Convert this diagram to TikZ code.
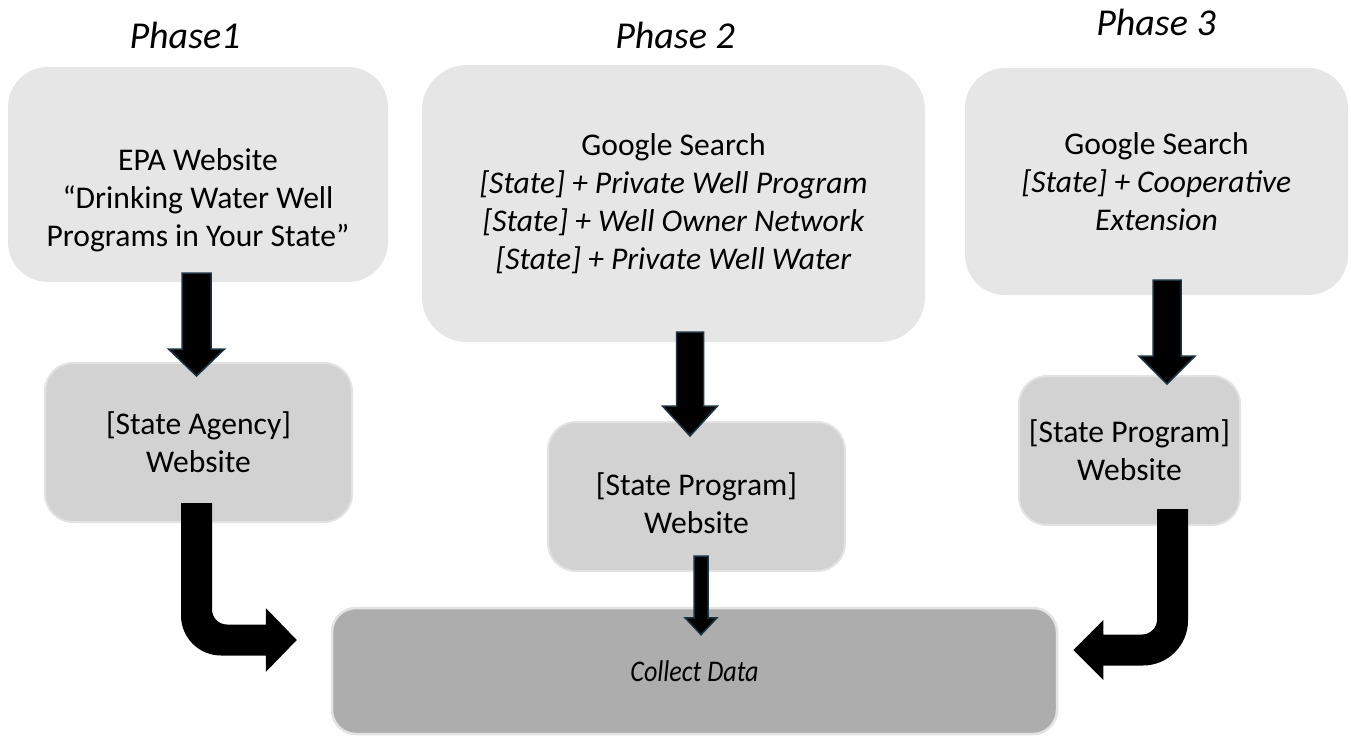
\documentclass[tikz,border=0pt]{standalone}
\usepackage{fontspec}
\usepackage{graphicx}
\setmainfont{Carlito}
\usetikzlibrary{calc}
\definecolor{boxA}{HTML}{E7E6E6}
\definecolor{boxB}{HTML}{D3D2D2}
\definecolor{boxC}{HTML}{AEADAD}
\definecolor{edgeB}{HTML}{E3E3E3}
\definecolor{arrEdge}{HTML}{1A3442}
% straight block arrow pointing down: from, to, halfshaft, halfhead, headlen, style
\newcommand{\blockdown}[6]{%
  \path[#6] let \p1=#1, \p2=#2 in
    (\x1-#3,\y1) -- (\x1-#3,\y2+#5) -- (\x1-#4,\y2+#5) -- (\x1,\y2)
    -- (\x1+#4,\y2+#5) -- (\x1+#3,\y2+#5) -- (\x1+#3,\y1) -- cycle;}
% bent arrow down then right: from, to, h, H, L, R, r
\newcommand{\bentright}[7]{%
  \fill[black] let \p1=#1, \p2=#2 in
    (\x1-#3,\y1) -- (\x1-#3,\y2-#3+#6)
    arc[start angle=180,end angle=270,radius=#6]
    -- (\x2-#5,\y2-#3) -- (\x2-#5,\y2-#4) -- (\x2,\y2) -- (\x2-#5,\y2+#4)
    -- (\x2-#5,\y2+#3) -- (\x1+#3+#7,\y2+#3)
    arc[start angle=270,end angle=180,radius=#7]
    -- (\x1+#3,\y1) -- cycle;}
% bent arrow down then left
\newcommand{\bentleft}[7]{%
  \fill[black] let \p1=#1, \p2=#2 in
    (\x1+#3,\y1) -- (\x1+#3,\y2-#3+#6)
    arc[start angle=0,end angle=-90,radius=#6]
    -- (\x2+#5,\y2-#3) -- (\x2+#5,\y2-#4) -- (\x2,\y2) -- (\x2+#5,\y2+#4)
    -- (\x2+#5,\y2+#3) -- (\x1-#3-#7,\y2+#3)
    arc[start angle=270,end angle=360,radius=#7]
    -- (\x1-#3,\y1) -- cycle;}
\begin{document}
\begin{tikzpicture}[x=1pt,y=-1pt,
  txt/.style={font=\fontsize{31.6}{37.8}\selectfont, align=center, text=black, inner sep=0pt},
  topbox/.style={txt, fill=boxA, draw=none},
  midbox/.style={txt, fill=boxB, draw=edgeB, line width=2pt, rounded corners=28pt},
  endbox/.style={fill=boxC, draw=edgeB, line width=2.5pt, rounded corners=24pt, inner sep=0pt,
    font=\fontsize{30}{36}\selectfont\itshape},
  phase/.style={font=\fontsize{38}{44}\selectfont\itshape, inner sep=0pt},
  arrow/.style={fill=black, draw=arrEdge, line width=1.5pt, line join=miter}
]
\useasboundingbox (0,0) rectangle (1351,736);

% phase labels
\node[phase] (ph1) at (185,35) {Phase1};
\node[phase] (ph2) at (675,35) {Phase 2};
\node[phase] (ph3) at (1156,22) {Phase 3};

% top boxes
\node[topbox, rounded corners=40pt, minimum width=380pt, minimum height=215pt] (b1) at (198,174.5) {};
\node[txt] (t1) at ($(b1.center)+(0,26)$)
  {EPA Website\\“Drinking Water Well\\Programs in Your State”};
\node[topbox, rounded corners=45pt, minimum width=503pt, minimum height=277pt] (b2) at (673.5,203.5)
  {Google Search\\\textit{[State] + Private Well Program}\\\textit{[State] + Well Owner Network}\\\textit{[State] + Private Well Water}};
\node[topbox, rounded corners=40pt, minimum width=383pt, minimum height=227pt] (b3) at (1156.5,181.5)
  {Google Search\\\textit{[State] + Cooperative}\\\textit{Extension}};

% middle boxes
\node[midbox, minimum width=307pt, minimum height=159pt] (b4) at (198.5,442.5) {[State Agency]\\Website};
\node[midbox, minimum width=297pt, minimum height=149pt] (b5) at (696.5,496.5) {};
\node[txt] (t5) at ($(b5.center)+(0,7)$) {[State Program]\\Website};
\node[midbox, minimum width=221pt, minimum height=149pt] (b6) at (1129.5,450.5) {[State Program]\\Website};

% final box
\node[endbox, minimum width=725pt, minimum height=126pt] (b7) at (694.5,671) {\scalebox{0.87}[1]{Collect Data}};

% straight arrows
\blockdown{($(b1.south)+(-1.5,-9)$)}{($(b4.north)+(0,14)$)}{14.5pt}{28pt}{27pt}{arrow}
\blockdown{($(b2.south)+(16.5,-10)$)}{($(b5.north)+(0,15)$)}{13.5pt}{27.5pt}{30pt}{arrow}
\blockdown{($(b3.south)+(10.5,-15)$)}{($(b6.north)+(0,9)$)}{14pt}{28pt}{28pt}{arrow}
\blockdown{($(b5.south)+(4.5,-16)$)}{($(b7.north)+(0,28)$)}{7pt}{16pt}{17pt}{arrow}

% bent arrows
\bentright{($(b4.south)+(-2,-20)$)}{($(b7.west)+(-34,-31)$)}{15.5pt}{32pt}{31pt}{40pt}{15pt}
\bentleft{($(b6.south)+(43,-17)$)}{($(b7.east)+(15,-21)$)}{15.5pt}{30pt}{30pt}{45pt}{15pt}
\end{tikzpicture}
\end{document}
